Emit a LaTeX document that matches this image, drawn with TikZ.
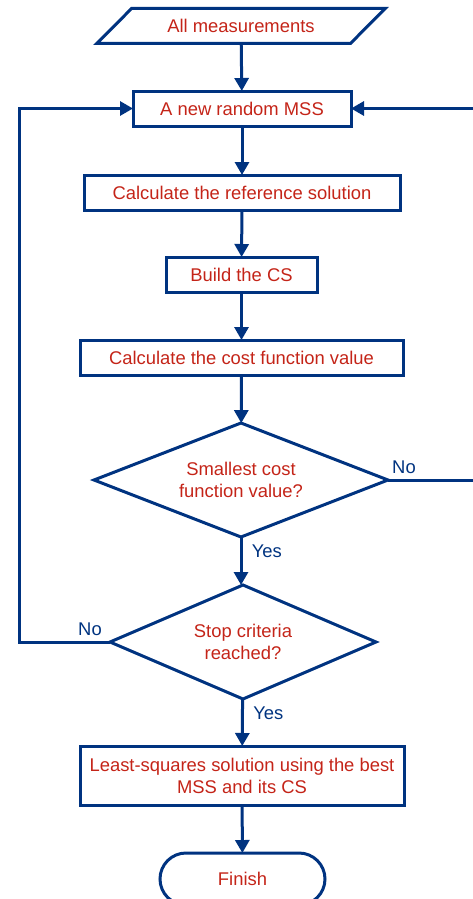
\documentclass[tikz,border=0pt]{standalone}
\usepackage{fontspec}
\setmainfont{Liberation Sans}
\usetikzlibrary{shapes.geometric,shapes.misc,arrows.meta}
\definecolor{flowblue}{RGB}{0,51,128}
\definecolor{flowred}{RGB}{196,36,24}
\tikzset{
  base/.style={draw=flowblue, line width=3pt, text=flowred, font=\fontsize{18.4}{22}\selectfont, align=center, inner sep=0pt, outer sep=0pt},
  stepbox/.style={base, rectangle, minimum height=35pt},
  inbox/.style={base, trapezium, trapezium left angle=30, trapezium right angle=150, trapezium stretches=true, minimum width=289pt, minimum height=35pt},
  query/.style={base, diamond, aspect=2.5, minimum width=294pt, minimum height=114pt},
  endbox/.style={base, rounded rectangle, minimum width=165pt, minimum height=52pt},
  arr/.style={draw=flowblue, line width=3pt, -{Triangle[width=14pt,length=13pt]}},
  ans/.style={text=flowblue, font=\fontsize{18.4}{22}\selectfont}
}
\begin{document}
\begin{tikzpicture}[x=1pt,y=-1pt]
\useasboundingbox (0,0) rectangle (473,899);
% blocs
\node [inbox] (meas) at (241,26) {All measurements};
\node [stepbox, minimum width=218pt] (mss) at (242,108.5) {A new random MSS};
\node [stepbox, minimum width=316pt] (ref) at (242,192.5) {Calculate the reference solution};
\node [stepbox, minimum width=151pt] (cs) at (241.5,274.5) {Build the CS};
\node [stepbox, minimum width=323pt] (cost) at (241.5,357.5) {Calculate the cost function value};
\node [query] (small) at (241,480) {Smallest cost\\function value?};
\node [query, aspect=2.3, minimum width=266pt] (stop) at (243,642) {Stop criteria\\reached?};
\node [stepbox, minimum width=324pt, minimum height=59pt] (lsq) at (242,775.5) {Least-squares solution using the best\\MSS and its CS};
\node [endbox] (fin) at (242.5,879) {Finish};
% points de retour
\coordinate (lft) at (19.5,0);
\coordinate (rgt) at (485,0);
% liaisons
\draw [arr] (meas) -- (mss);
\draw [arr] (mss) -- (ref);
\draw [arr] (ref) -- (cs);
\draw [arr] (cs) -- (cost);
\draw [arr] (cost) -- (small);
\draw [arr] (small.south) -- (small.south |- stop.north) node [ans, pos=0.3, right=6pt] {Yes};
\draw [arr] (stop) -- (lsq) node [ans, pos=0.3, right=6pt] {Yes};
\draw [arr] (lsq) -- (fin);
\draw [arr] (stop.west) -- (stop.west -| lft) |- (mss.west);
\draw [arr] (small.east) -- (small.east -| rgt) |- (mss.east);
\node [ans, above] (no1) at (404,477) {No};
\node [ans, above] (no2) at (90,639) {No};
\end{tikzpicture}
\end{document}
